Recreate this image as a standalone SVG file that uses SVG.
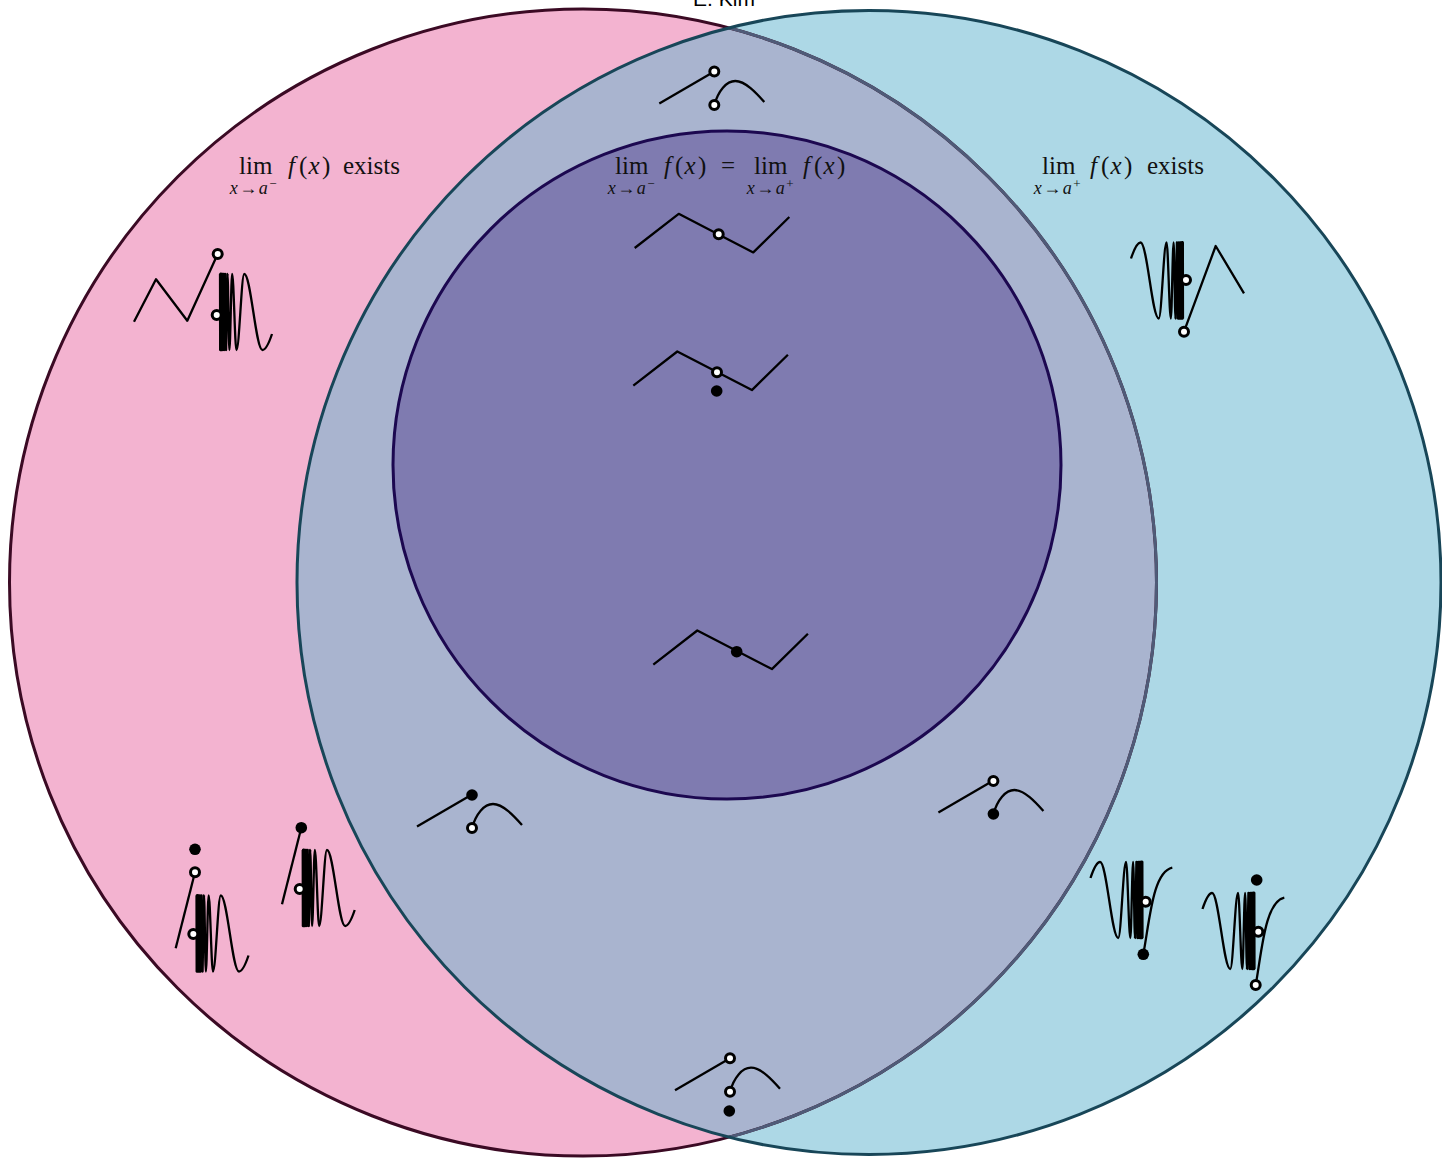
<svg xmlns="http://www.w3.org/2000/svg" xmlns:xlink="http://www.w3.org/1999/xlink" width="1442" height="1158" viewBox="0 0 1442 1158">
<style>
.m{font-family:"Liberation Serif","DejaVu Serif",serif;font-size:25px;fill:#111}
.s{font-family:"Liberation Serif","DejaVu Serif",serif;font-size:18px;fill:#111;letter-spacing:1.5px}
.i{font-style:italic}
.g{fill:none;stroke:#000;stroke-width:2.3;stroke-linejoin:round}
.o{fill:#fff;stroke:#000;stroke-width:3}
.f{fill:#000}
</style>
<defs>
<clipPath id="clipL"><circle cx="583" cy="582.5" r="573.5"/></clipPath>
<clipPath id="clipR"><circle cx="869" cy="582.5" r="572"/></clipPath>
<path id="osc" d="M3.03,-38 L3.17,38 L3.33,-38 L3.5,38 L3.69,-38 L3.9,38 L4.13,-38 L4.4,38 L4.7,-38 L5.05,38 L5.45,-38 L5.92,38 L6.49,-38 L7.17,38 L8.02,-38 L9.08,38 L10.48,-38 C11.17,-38 11.69,38 12.38,38 C13.38,38 14.14,-38 15.14,-38 C16.71,-38 17.89,38 19.46,38 C22.3,38 24.41,-38 27.25,-38 C33.86,-38 38.81,38 45.42,38 C48.6,38 52,31 55,22"/>
<g id="arch"><path d="M-55,-1.5 L0,-33.5"/><path d="M0,0 C4,-14 12,-24 21,-24 C31,-24 42,-12 50,-3"/></g>
<path id="zig" d="M0,0 L44,-34.2 L118.6,4.4 L154.6,-31"/>
</defs>

<text x="724" y="6" text-anchor="middle" font-family="Liberation Sans, Arial, sans-serif" font-size="21" fill="#000">E. Kim</text>

<g id="set-left-limit">
<circle cx="583" cy="582.5" r="573.5" fill="#f3b3d0"/>
</g>
<g id="set-right-limit">
<circle cx="869" cy="582.5" r="572" fill="#add8e6"/>
<circle cx="869" cy="582.5" r="572" fill="#a9b4cf" clip-path="url(#clipL)"/>
<circle cx="583" cy="582.5" r="573.5" fill="none" stroke="#3b0a24" stroke-width="3"/>
<circle cx="583" cy="582.5" r="573.5" fill="none" stroke="#4f5b78" stroke-width="3" clip-path="url(#clipR)"/>
<circle cx="869" cy="582.5" r="572" fill="none" stroke="#184658" stroke-width="3"/>
</g>
<g id="set-equal-limits">
<circle cx="727" cy="465" r="334" fill="#7f7bb0" stroke="#1c0850" stroke-width="3"/>
</g>

<g id="labels">
<text class="m" x="239" y="174">lim</text>
<text class="m" x="288" y="174"><tspan class="i">f</tspan><tspan x="299">(</tspan><tspan class="i" x="308.5">x</tspan><tspan x="322">)</tspan></text>
<text class="m" x="343" y="174">exists</text>
<text class="s" x="254" y="194" text-anchor="middle"><tspan class="i">x</tspan>→<tspan class="i">a</tspan><tspan dy="-6" font-size="13">−</tspan></text>

<text class="m" x="615" y="174">lim</text>
<text class="m" x="664" y="174"><tspan class="i">f</tspan><tspan x="675">(</tspan><tspan class="i" x="684.5">x</tspan><tspan x="698">)</tspan></text>
<text class="m" x="721" y="174">=</text>
<text class="m" x="754" y="174">lim</text>
<text class="m" x="803" y="174"><tspan class="i">f</tspan><tspan x="814">(</tspan><tspan class="i" x="823.5">x</tspan><tspan x="837">)</tspan></text>
<text class="s" x="632" y="194" text-anchor="middle"><tspan class="i">x</tspan>→<tspan class="i">a</tspan><tspan dy="-6" font-size="13">−</tspan></text>
<text class="s" x="771" y="194" text-anchor="middle"><tspan class="i">x</tspan>→<tspan class="i">a</tspan><tspan dy="-6" font-size="13">+</tspan></text>

<text class="m" x="1042" y="174">lim</text>
<text class="m" x="1090" y="174"><tspan class="i">f</tspan><tspan x="1101">(</tspan><tspan class="i" x="1110.5">x</tspan><tspan x="1124">)</tspan></text>
<text class="m" x="1147" y="174">exists</text>
<text class="s" x="1058" y="194" text-anchor="middle"><tspan class="i">x</tspan>→<tspan class="i">a</tspan><tspan dy="-6" font-size="13">+</tspan></text>
</g>

<g id="graph-top-jump">
<use xlink:href="#arch" class="g" transform="translate(714.3,105)"/>
<circle class="o" cx="714.3" cy="71.5" r="4.5"/>
<circle class="o" cx="714.3" cy="105" r="4.5"/>
</g>

<g id="graph-removable-1">
<use xlink:href="#zig" class="g" transform="translate(634.7,248)"/>
<circle class="o" cx="718.7" cy="234.3" r="4.5"/>
</g>
<g id="graph-removable-2">
<use xlink:href="#zig" class="g" transform="translate(633.3,385.7)"/>
<circle class="o" cx="717" cy="372.3" r="4.5"/>
<circle class="f" cx="716.7" cy="391" r="5.8"/>
</g>
<g id="graph-continuous">
<use xlink:href="#zig" class="g" transform="translate(653.3,664.7)"/>
<circle class="f" cx="736.7" cy="651.7" r="5.8"/>
</g>

<g id="graph-left-osc-top">
<path class="g" d="M134,321.7 L156,279.3 L187.3,320.7 L217.7,254"/>
<use xlink:href="#osc" class="g" transform="translate(217,312)"/>
<circle class="o" cx="217.7" cy="254" r="4.5"/>
<circle class="o" cx="216.7" cy="315" r="4.5"/>
</g>
<g id="graph-left-osc-1">
<path class="g" d="M175.7,948.3 L195,872.3"/>
<use xlink:href="#osc" class="g" transform="translate(193.5,933.5)"/>
<circle class="o" cx="195" cy="872.3" r="4.5"/>
<circle class="f" cx="195" cy="849.3" r="5.8"/>
<circle class="o" cx="193.3" cy="934" r="4.5"/>
</g>
<g id="graph-left-osc-2">
<path class="g" d="M282,904.3 L301.3,827.7"/>
<use xlink:href="#osc" class="g" transform="translate(299.7,888)"/>
<circle class="f" cx="301.3" cy="827.7" r="5.8"/>
<circle class="o" cx="299.7" cy="889" r="4.5"/>
</g>

<g id="graph-right-osc-top">
<use xlink:href="#osc" class="g" transform="translate(1186,280.5) rotate(180)"/>
<path class="g" d="M1184,331.7 L1215.7,246 L1244,293.3"/>
<circle class="o" cx="1186" cy="280" r="4.5"/>
<circle class="o" cx="1184" cy="331.7" r="4.5"/>
</g>
<g id="graph-right-osc-1">
<use xlink:href="#osc" class="g" transform="translate(1145.5,900) rotate(180)"/>
<path class="g" d="M1143.3,954.3 C1150,918 1153,872 1172.3,867.7"/>
<circle class="o" cx="1145.7" cy="901.7" r="4.5"/>
<circle class="f" cx="1143.3" cy="954.3" r="5.8"/>
</g>
<g id="graph-right-osc-2">
<use xlink:href="#osc" class="g" transform="translate(1257.5,931) rotate(180)"/>
<path class="g" d="M1255.7,985 C1262,950 1265,902 1284.3,897.7"/>
<circle class="f" cx="1256.7" cy="880" r="5.8"/>
<circle class="o" cx="1258.3" cy="931.7" r="4.5"/>
<circle class="o" cx="1255.7" cy="985" r="4.5"/>
</g>

<g id="graph-jump-left">
<use xlink:href="#arch" class="g" transform="translate(472,828)"/>
<circle class="f" cx="472" cy="795" r="5.8"/>
<circle class="o" cx="472" cy="828" r="4.5"/>
</g>
<g id="graph-jump-right">
<use xlink:href="#arch" class="g" transform="translate(993.4,814)"/>
<circle class="o" cx="993.4" cy="781" r="4.5"/>
<circle class="f" cx="993.4" cy="814" r="5.8"/>
</g>
<g id="graph-jump-bottom">
<use xlink:href="#arch" class="g" transform="translate(730,1091.7)"/>
<circle class="o" cx="730" cy="1058.3" r="4.5"/>
<circle class="o" cx="730" cy="1091.7" r="4.5"/>
<circle class="f" cx="729.3" cy="1111" r="5.8"/>
</g>

<g id="connectors"/>
</svg>
